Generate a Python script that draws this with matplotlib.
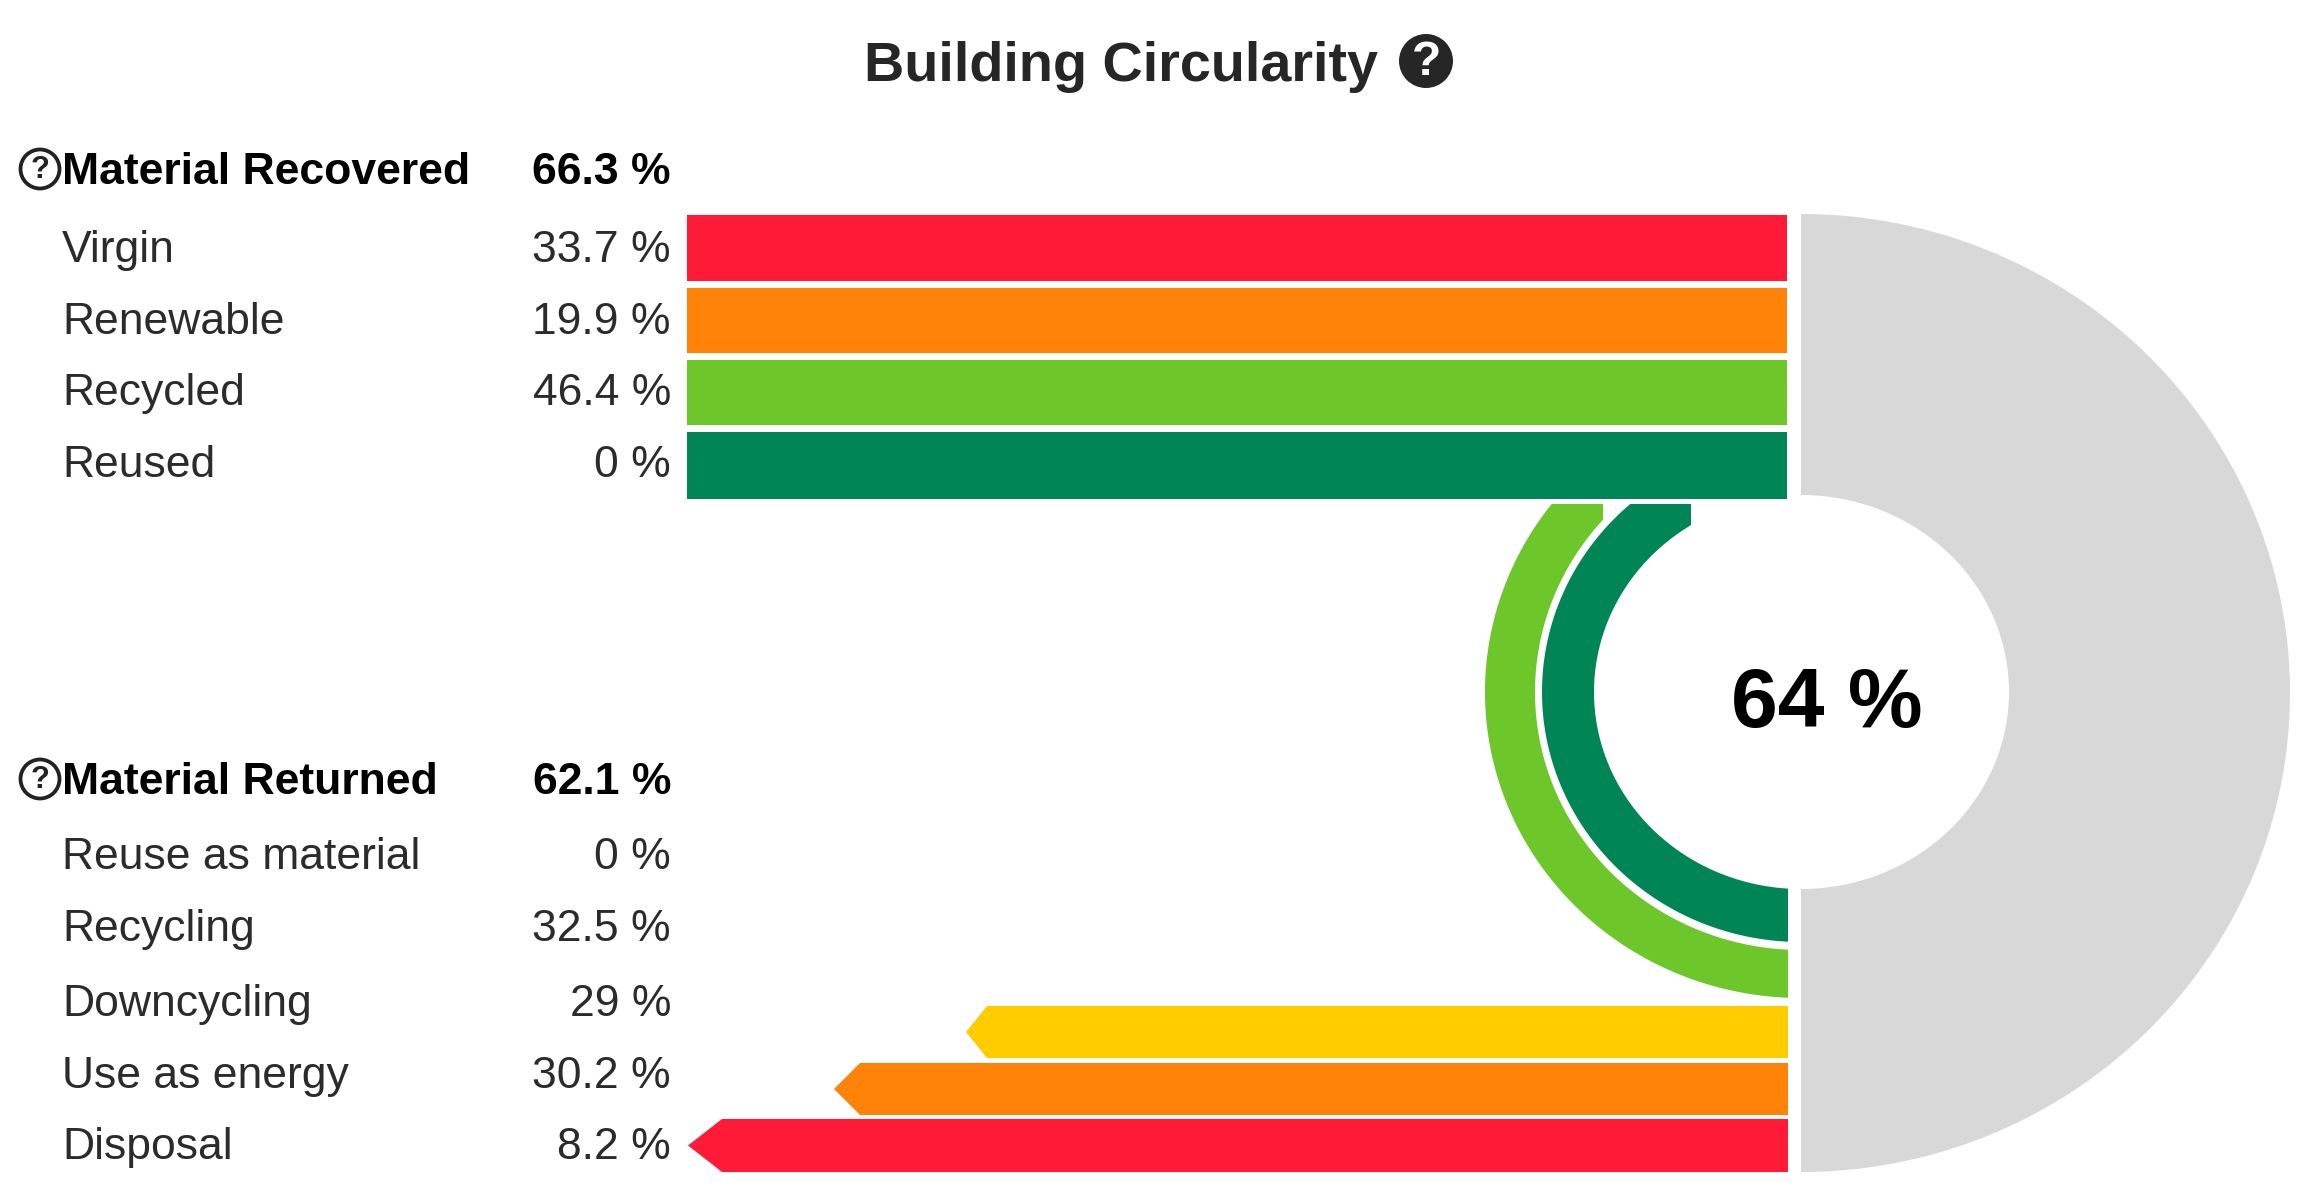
import numpy as np
import matplotlib
matplotlib.use("Agg")
import matplotlib.pyplot as plt
from matplotlib.patches import Circle, Polygon

plt.rcParams['font.family'] = ['Liberation Sans', 'DejaVu Sans']

# ---- chart content ----
title = "Building Circularity"
center_label = "64 %"
recovered_head = "Material Recovered"
recovered_total = "66.3 %"
recovered_names = ["Virgin", "Renewable", "Recycled", "Reused"]
recovered_values = ["33.7 %", "19.9 %", "46.4 %", "0 %"]
returned_head = "Material Returned"
returned_total = "62.1 %"
returned_names = ["Reuse as material", "Recycling", "Downcycling", "Use as energy", "Disposal"]
returned_values = ["0 %", "32.5 %", "29 %", "30.2 %", "8.2 %"]

# ---- layout, in image pixels ----
W, H = 2316, 1195
RED, ORANGE, LIGHT, DARK, YELLOW, GREY = "#FF1A38", "#FF8308", "#6DC72B", "#008556", "#FFCC00", "#D8D8D8"
TXT = "#2b2b2b"
px = 0.72
fs = 44.5 * px
name_x, value_x = 62, 671

fig = plt.figure(figsize=(W / 100, H / 100), dpi=100, facecolor="white")
ax = fig.add_axes([0, 0, 1, 1])
ax.set_xlim(0, W)
ax.set_ylim(H, 0)
ax.axis("off")

# top bars
top_spans = [(215, 281), (288, 353), (360, 425), (432, 499)]
top_colors = [RED, ORANGE, LIGHT, DARK]
bar_left, bar_right = 687, 1787
for (y0, y1), c in zip(top_spans, top_colors):
    ax.barh((y0 + y1) / 2, bar_right - bar_left, height=y1 - y0, left=bar_left, color=c, linewidth=0)

# bottom arrow bars
bot_spans = [(1006, 1058), (1063, 1115), (1119, 1172)]
bot_tips = [966, 834, 688]
bot_shoulders = [987, 860, 722]
bot_colors = [YELLOW, ORANGE, RED]
for (y0, y1), tip, sh, c in zip(bot_spans, bot_tips, bot_shoulders, bot_colors):
    ax.add_patch(Polygon([(1788, y0), (sh, y0), (tip, (y0 + y1) / 2), (sh, y1), (1788, y1)],
                         closed=True, facecolor=c, edgecolor="none"))

# grey half ring
def half_ring(cx, a_o, b_o, cy_o, a_i, b_i, cy_i, color):
    t = np.linspace(-np.pi / 2, np.pi / 2, 300)
    outer = np.column_stack([cx + a_o * np.cos(t), cy_o + b_o * np.sin(t)])
    inner = np.column_stack([cx + a_i * np.cos(t[::-1]), cy_i + b_i * np.sin(t[::-1])])
    ax.add_patch(Polygon(np.vstack([outer, inner]), closed=True, facecolor=color, edgecolor="none"))

half_ring(1801, 489, 479, 693, 208, 197, 692, GREY)

# green rings
def ring(a_o, b_o, a_i, b_i, y_top, x_notch, color, cx=1801, cy=692, x_end=1788):
    t_end_o = np.arcsin((y_top - cy) / b_o)
    t_start_o = np.arccos((cx - x_end) / a_o)
    t_o = np.linspace(t_start_o, t_end_o, 200)
    outer = np.column_stack([cx - a_o * np.cos(t_o), cy + b_o * np.sin(t_o)])
    t_end_i = -np.arccos((cx - x_notch) / a_i)
    t_start_i = np.arccos((cx - x_end) / a_i)
    t_i = np.linspace(t_end_i, t_start_i, 200)
    inner = np.column_stack([cx - a_i * np.cos(t_i), cy + b_i * np.sin(t_i)])
    pts = np.vstack([outer, [(x_notch, y_top)], inner])
    ax.add_patch(Polygon(pts, closed=True, facecolor=color, edgecolor="none"))

ring(316, 306, 266, 258, 504, 1603, LIGHT)
ring(259, 250, 207, 197, 504, 1691, DARK)

# text
ax.text(864, 81, title, fontsize=55.8 * px, fontweight="bold", color="#262626", ha="left", va="baseline")
ax.text(1827, 727, center_label, fontsize=84 * px, fontweight="bold", color="black", ha="center", va="baseline")

ax.text(name_x, 184, recovered_head, fontsize=fs, fontweight="bold", color="black", va="baseline")
ax.text(value_x, 184, recovered_total, fontsize=fs, fontweight="bold", color="black", ha="right", va="baseline")
for n, v, y in zip(recovered_names, recovered_values, [262, 334, 405, 477]):
    ax.text(name_x, y, n, fontsize=fs, color=TXT, va="baseline")
    ax.text(value_x, y, v, fontsize=fs, color=TXT, ha="right", va="baseline")

ax.text(name_x, 794, returned_head, fontsize=fs, fontweight="bold", color="black", va="baseline")
ax.text(value_x, 794, returned_total, fontsize=fs, fontweight="bold", color="black", ha="right", va="baseline")
for n, v, y in zip(returned_names, returned_values, [869, 941, 1016, 1088, 1159]):
    ax.text(name_x, y, n, fontsize=fs, color=TXT, va="baseline")
    ax.text(value_x, y, v, fontsize=fs, color=TXT, ha="right", va="baseline")

# help icons
for cy in (169, 779):
    ax.add_patch(Circle((40, cy), 19.5, facecolor="white", edgecolor="#222222", linewidth=3.8 * px))
    ax.text(40, cy + 1, "?", fontsize=31 * px, fontweight="bold", color="#222222", ha="center", va="center")
ax.add_patch(Circle((1426, 61), 27, facecolor="#262626", edgecolor="none"))
ax.text(1426, 62, "?", fontsize=48 * px, fontweight="bold", color="white", ha="center", va="center")

fig.savefig("out.png", dpi=100, facecolor="white")
